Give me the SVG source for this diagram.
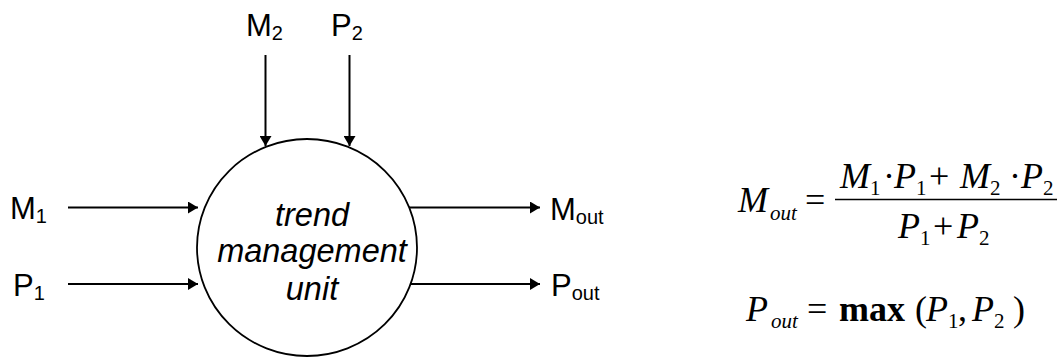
<svg xmlns="http://www.w3.org/2000/svg" width="1060" height="357" viewBox="0 0 1060 357">
  <style>
    .lbl { font-family: "Liberation Sans", Arial, sans-serif; font-size: 31px; fill: #000; }
    .sub { font-size: 20px; }
    .unit { font-family: "Liberation Sans", Arial, sans-serif; font-size: 32.5px; font-style: italic; fill: #000; text-anchor: middle; }
    .m { font-family: "Liberation Serif", "Times New Roman", serif; font-size: 36px; fill: #000; }
    .mi { font-style: italic; }
    .ms { font-size: 21px; }
    .wire { stroke: #000; stroke-width: 2; fill: none; }
  </style>
  <defs>
    <marker id="arrow" viewBox="0 0 10 12" refX="10" refY="6" markerWidth="10" markerHeight="12" markerUnits="userSpaceOnUse" orient="auto">
      <path d="M0,0 L10,6 L0,12 Z" fill="#000"/>
    </marker>
  </defs>
  <rect width="1060" height="357" fill="#fff"/>

  <!-- processing unit -->
  <g id="unit">
    <ellipse cx="307" cy="247.5" rx="110" ry="108.5" fill="#fff" stroke="#000" stroke-width="1.8"/>
    <text class="unit" x="312" y="226">trend</text>
    <text class="unit" x="312" y="262">management</text>
    <text class="unit" x="312" y="300">unit</text>
  </g>

  <!-- input and output labels -->
  <g id="in-m1"><text class="lbl" x="10" y="219">M<tspan class="sub" dy="4">1</tspan></text></g>
  <g id="in-p1"><text class="lbl" x="13" y="296">P<tspan class="sub" dy="4">1</tspan></text></g>
  <g id="in-m2"><text class="lbl" x="246" y="36">M<tspan class="sub" dy="4">2</tspan></text></g>
  <g id="in-p2"><text class="lbl" x="331" y="36">P<tspan class="sub" dy="4">2</tspan></text></g>
  <g id="out-m"><text class="lbl" x="550" y="220">M<tspan class="sub" dy="4">out</tspan></text></g>
  <g id="out-p"><text class="lbl" x="551" y="296">P<tspan class="sub" dy="4">out</tspan></text></g>

  <!-- connectors -->
  <g id="connectors" class="wire">
    <line x1="68" y1="207.5" x2="198" y2="207.5" marker-end="url(#arrow)"/>
    <line x1="68" y1="284" x2="198" y2="284" marker-end="url(#arrow)"/>
    <line x1="265.5" y1="55" x2="265.5" y2="146" marker-end="url(#arrow)"/>
    <line x1="349.5" y1="55" x2="349.5" y2="146" marker-end="url(#arrow)"/>
    <line x1="409" y1="207.5" x2="540" y2="207.5" marker-end="url(#arrow)"/>
    <line x1="411" y1="284" x2="540" y2="284" marker-end="url(#arrow)"/>
  </g>

  <!-- weighted mean of the trend values -->
  <g id="eq-mout">
    <text class="m mi" x="738" y="212">M</text>
    <text class="m mi ms" x="770" y="220">out</text>
    <text class="m" x="805" y="212">=</text>
    <line x1="835" y1="199.5" x2="1057" y2="199.5" stroke="#000" stroke-width="1.5"/>
    <text class="m mi" x="840" y="188">M</text>
    <text class="m ms" x="870" y="195">1</text>
    <text class="m" x="883" y="188">·</text>
    <text class="m mi" x="894" y="188">P</text>
    <text class="m ms" x="916" y="195">1</text>
    <text class="m" x="929" y="188">+</text>
    <text class="m mi" x="960" y="188">M</text>
    <text class="m ms" x="990" y="195">2</text>
    <text class="m" x="1009" y="188">·</text>
    <text class="m mi" x="1021" y="188">P</text>
    <text class="m ms" x="1043" y="195">2</text>
    <text class="m mi" x="898" y="238">P</text>
    <text class="m ms" x="920" y="245">1</text>
    <text class="m" x="933" y="238">+</text>
    <text class="m mi" x="957" y="238">P</text>
    <text class="m ms" x="979" y="245">2</text>
  </g>

  <!-- maximum of the priorities -->
  <g id="eq-pout">
    <text class="m mi" x="746" y="321">P</text>
    <text class="m mi ms" x="771" y="328">out</text>
    <text class="m" x="807" y="321">=</text>
    <text class="m" x="839" y="321" font-weight="bold">max</text>
    <text class="m" x="915" y="321">(</text>
    <text class="m mi" x="926" y="321">P</text>
    <text class="m ms" x="948" y="328">1</text>
    <text class="m" x="958" y="321">,</text>
    <text class="m mi" x="972" y="321">P</text>
    <text class="m ms" x="994" y="328">2</text>
    <text class="m" x="1013" y="321">)</text>
  </g>
</svg>
